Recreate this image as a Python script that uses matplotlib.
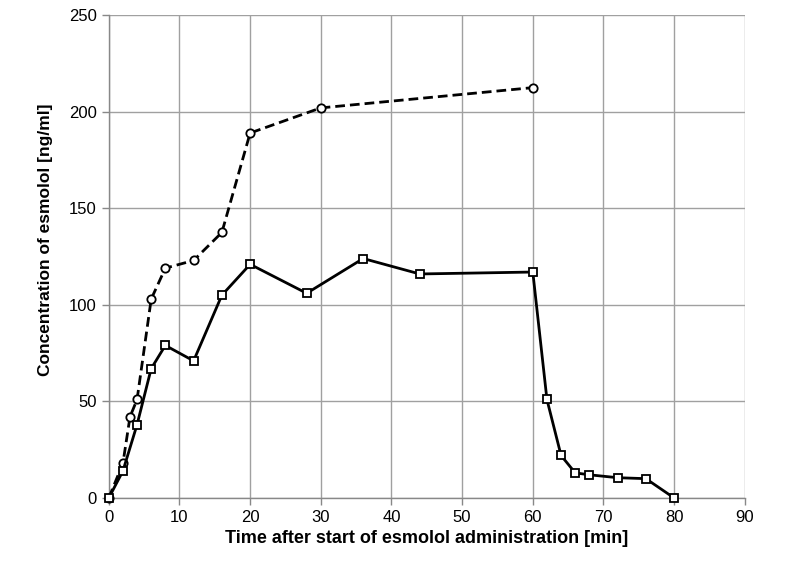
import matplotlib
matplotlib.use('Agg')
import matplotlib.pyplot as plt

plt.rcParams['font.family'] = ['Liberation Sans', 'DejaVu Sans']

# Данные: время (мин) и концентрация (нг/мл)
t_square = [0, 2, 4, 6, 8, 12, 16, 20, 28, 36, 44, 60, 62, 64, 66, 68, 72, 76, 80]
c_square = [0, 14, 38, 67, 79, 71, 105, 121, 106, 124, 116, 117, 51, 22, 13, 12, 10.5, 10, 0]

t_circle = [0, 2, 3, 4, 6, 8, 12, 16, 20, 30, 60]
c_circle = [0, 18, 42, 51, 103, 119, 123, 137.5, 189, 202, 212.5]

x_ticks = [0, 10, 20, 30, 40, 50, 60, 70, 80, 90]
y_ticks = [0, 50, 100, 150, 200, 250]

fig = plt.figure(figsize=(8, 5.63), dpi=100)
ax = fig.add_axes([0.136, 0.1155, 0.795, 0.8575])

ax.plot(t_circle, c_circle, color='black', linestyle='--', linewidth=2.0,
        marker='o', markersize=6, markerfacecolor='white', markeredgecolor='black',
        markeredgewidth=1.3, dashes=(3.5, 1.8), clip_on=False, zorder=3)
ax.plot(t_square, c_square, color='black', linestyle='-', linewidth=2.0,
        marker='s', markersize=6, markerfacecolor='white', markeredgecolor='black',
        markeredgewidth=1.3, clip_on=False, zorder=4)

ax.set_xlim(0, 90)
ax.set_ylim(0, 250)
ax.set_xticks(x_ticks)
ax.set_yticks(y_ticks)
ax.grid(True, color='#a0a0a0', linewidth=1.0)
ax.set_axisbelow(True)

for s in ['top', 'right']:
    ax.spines[s].set_visible(False)
for s in ['left', 'bottom']:
    ax.spines[s].set_color('#888888')
    ax.spines[s].set_linewidth(1.0)

ax.tick_params(axis='both', colors='#888888', labelcolor='black',
               labelsize=12, length=5, width=1.0, direction='out')

ax.set_xlabel('Time after start of esmolol administration [min]',
              fontsize=13, fontweight='bold', labelpad=4)
ax.set_ylabel('Concentration of esmolol [ng/ml]',
              fontsize=12.5, fontweight='bold')
ax.yaxis.set_label_coords(-0.088, 0.535)

fig.savefig('out.png', dpi=100)
